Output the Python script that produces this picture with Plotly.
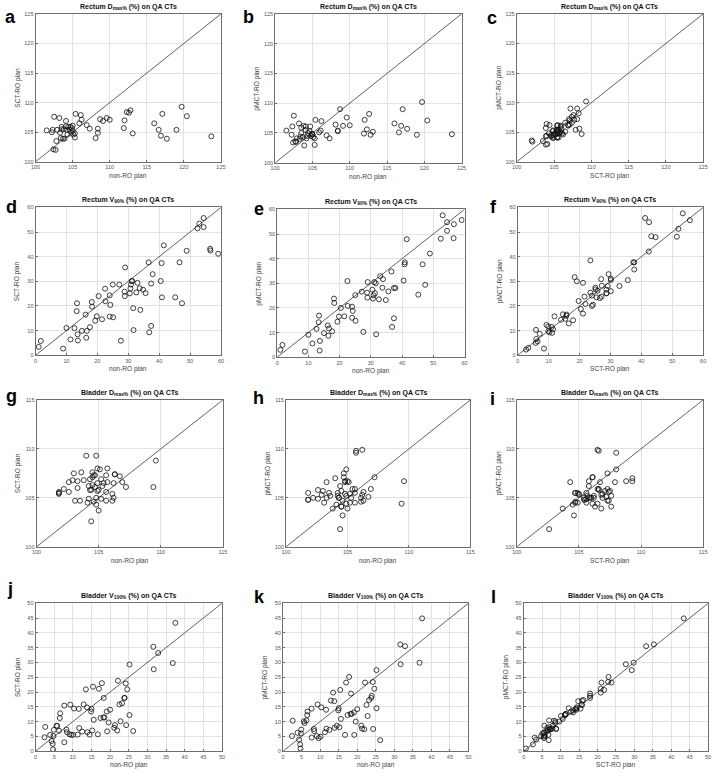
import plotly.graph_objects as go

W, H = 719, 774

# ---------------- data ----------------
# Rectum Dmax% (%)
rd_nonro = [101.5, 102.2, 102.3, 102.5, 102.4, 102.7, 102.8, 102.9, 103.2, 103.3, 103.5, 103.5, 103.4, 103.7, 103.8,
            103.9, 104.1, 104.1, 104.2, 104.3, 104.4, 104.6, 104.7, 104.8, 104.9, 105.0, 105.1, 105.0, 105.3, 105.3,
            105.4, 105.9, 106.1, 106.2, 106.9, 107.3, 108.1, 108.4, 108.4, 108.7, 109.1, 109.6, 110.0, 111.9, 112.0,
            112.3, 112.6, 112.8, 113.1, 116.0, 116.6, 116.9, 117.1, 117.7, 119.0, 119.7, 120.4, 123.7]
rd_sct = [105.3, 105.0, 105.4, 107.6, 102.1, 102.0, 103.5, 105.4, 107.4, 104.9, 105.9, 105.5, 104.0, 103.9, 105.5,
          103.9, 106.9, 106.0, 105.4, 104.6, 105.9, 105.4, 105.9, 104.9, 105.7, 105.2, 104.6, 106.1, 104.1, 104.8,
          108.1, 106.5, 107.9, 107.1, 106.2, 105.6, 104.0, 105.6, 104.9, 107.2, 106.9, 107.4, 107.1, 105.7, 107.0,
          108.4, 108.3, 108.7, 104.8, 106.5, 105.4, 104.4, 108.1, 103.9, 105.4, 109.3, 107.7, 104.3]
rd_pmct = [105.4, 104.7, 106.1, 107.9, 103.4, 103.6, 103.5, 104.1, 106.6, 104.0, 105.9, 105.0, 104.4, 104.3, 106.2,
           102.9, 106.1, 105.5, 104.1, 104.5, 105.0, 105.3, 106.1, 104.5, 104.9, 104.7, 104.3, 104.8, 103.0, 104.1,
           107.2, 105.1, 105.4, 107.0, 104.6, 104.1, 106.4, 105.4, 105.3, 109.0, 106.2, 107.6, 106.3, 104.9, 107.2,
           105.6, 108.2, 104.7, 105.2, 106.6, 105.1, 106.2, 109.0, 105.7, 104.7, 110.2, 107.1, 104.8]

# Rectum V90% (%)
rv_nonro = [1.0, 1.7, 8.9, 10.0, 11.3, 12.6, 13.4, 13.3, 13.6, 13.7, 15.0, 16.2, 16.6, 16.4, 17.6, 18.2, 18.3, 19.3,
            19.8, 20.4, 21.5, 22.5, 22.6, 24.0, 24.2, 24.0, 25.1, 25.0, 27.1, 27.6, 29.0, 28.8, 28.9, 30.5, 30.7, 30.9,
            31.1, 31.3, 31.6, 31.7, 32.6, 33.0, 33.7, 33.9, 34.8, 35.6, 36.8, 36.6, 37.4, 37.4, 37.9, 40.5, 40.8, 40.9,
            41.5, 45.2, 46.6, 47.4, 48.9, 52.4, 53.0, 54.4, 54.4, 56.5, 56.6, 59.1]
rv_sct = [3.4, 5.8, 2.7, 11.1, 6.4, 11.0, 21.1, 17.9, 8.5, 6.0, 9.9, 16.5, 9.9, 7.1, 11.4, 21.6, 19.7, 14.0,
          15.8, 24.0, 14.6, 27.0, 21.9, 24.3, 20.4, 15.7, 15.4, 28.7, 28.7, 5.9, 35.6, 25.8, 24.0, 25.1, 27.1, 28.7,
          30.1, 30.1, 19.1, 10.2, 25.5, 29.4, 27.2, 18.4, 26.6, 25.2, 9.3, 37.7, 29.1, 11.9, 32.9, 30.1, 37.4, 23.5,
          44.6, 23.5, 37.7, 21.1, 42.4, 51.5, 53.4, 55.7, 52.0, 43.2, 42.5, 41.2]
rv_pmct = [3.0, 5.0, 2.3, 9.1, 5.6, 11.5, 16.9, 14.2, 2.7, 6.6, 9.8, 12.9, 11.7, 8.7, 10.5, 23.8, 22.0, 14.4,
           16.5, 20.0, 16.6, 30.9, 20.8, 20.5, 18.8, 16.0, 14.8, 25.2, 26.6, 10.3, 30.5, 26.2, 24.2, 27.4, 23.8, 25.1,
           30.5, 26.0, 30.0, 9.3, 23.5, 32.9, 28.2, 31.7, 23.2, 26.7, 12.3, 34.8, 28.1, 15.8, 28.1, 31.1, 37.7, 38.5,
           47.9, 25.4, 37.7, 29.4, 42.1, 48.1, 57.6, 54.8, 51.3, 48.3, 54.0, 55.7]

# Bladder Dmax% (%)
bd_nonro = [101.8, 101.8, 101.8, 102.2, 102.6, 102.6, 102.9, 103.0, 103.1, 103.3, 103.3, 103.5, 103.6, 103.8, 104.0,
            104.1, 104.2, 104.2, 104.3, 104.3, 104.4, 104.4, 104.5, 104.5, 104.5, 104.6, 104.6, 104.7, 104.7, 104.8,
            104.8, 104.8, 104.9, 104.9, 105.0, 104.9, 105.0, 105.1, 105.2, 105.2, 105.3, 105.4, 105.6, 105.7, 105.6,
            105.6, 105.7, 106.1, 106.1, 106.2, 106.2, 106.3, 106.3, 106.7, 106.9, 107.2, 109.4, 109.6]
bd_sct = [105.6, 105.5, 105.4, 105.9, 105.6, 106.6, 106.8, 107.5, 104.7, 106.0, 106.7, 104.7, 107.6, 106.8, 109.3,
          104.5, 104.9, 106.2, 106.9, 105.8, 105.8, 102.6, 107.6, 106.3, 107.1, 104.6, 107.3, 107.3, 106.1, 104.3,
          105.0, 109.3, 108.0, 106.5, 103.7, 105.7, 105.8, 107.9, 106.9, 104.9, 106.2, 106.5, 105.6, 108.0, 104.7,
          107.3, 106.6, 105.4, 104.7, 105.0, 106.5, 107.4, 107.4, 107.2, 106.6, 106.1, 106.1, 108.8]
bd_pmct = [105.5, 104.8, 104.8, 105.0, 104.9, 105.8, 105.3, 105.7, 104.5, 105.0, 106.6, 105.5, 105.2, 103.9, 107.0,
           104.3, 105.5, 105.2, 105.0, 105.0, 106.2, 101.8, 104.1, 104.1, 105.7, 103.2, 104.7, 107.5, 107.1, 106.6,
           105.4, 106.7, 107.9, 104.4, 103.9, 105.2, 106.7, 106.6, 105.4, 104.5, 105.0, 105.9, 104.5, 109.6, 105.5,
           105.9, 109.8, 105.0, 104.6, 105.3, 109.9, 105.6, 104.7, 105.1, 105.9, 107.1, 104.4, 106.7]

# Bladder V100% (%)
bv_nonro = [2.4, 2.6, 3.9, 4.3, 4.6, 4.7, 4.8, 4.9, 5.6, 5.8, 6.3, 6.5, 6.6, 7.7, 7.7, 8.3, 8.4, 9.1, 9.3, 9.6,
            10.1, 10.3, 11.3, 11.6, 11.7, 12.5, 12.9, 13.5, 13.8, 13.9, 14.5, 15.0, 14.9, 15.2, 15.4, 15.6, 16.7,
            17.0, 17.4, 17.8, 18.3, 18.2, 18.5, 19.1, 19.2, 19.6, 20.0, 21.1, 21.3, 21.9, 22.1, 22.5, 22.8, 23.2,
            23.8, 23.9, 24.2, 24.3, 24.6, 25.2, 25.2, 26.2, 31.6, 31.7, 32.9, 36.8, 37.5]
bv_sct = [4.7, 8.2, 5.5, 3.4, 2.5, 0.6, 5.1, 7.2, 8.6, 8.5, 6.9, 11.2, 12.8, 15.4, 3.0, 7.3, 6.4, 5.7, 15.7, 5.5,
          5.5, 14.4, 5.6, 14.3, 7.8, 6.6, 15.8, 20.9, 14.8, 6.4, 5.6, 14.3, 13.4, 7.0, 21.8, 10.6, 5.7,
          21.1, 11.2, 23.0, 18.0, 11.4, 11.4, 13.4, 6.7, 9.7, 14.0, 7.9, 8.8, 7.0, 23.8, 15.8, 10.1, 16.2,
          18.0, 18.0, 22.9, 8.8, 20.9, 12.2, 29.3, 6.8, 35.3, 27.7, 33.2, 29.8, 43.4]
bv_pmct = [5.1, 10.3, 6.2, 3.9, 2.3, 0.9, 6.0, 7.3, 10.1, 9.5, 10.4, 12.2, 13.4, 14.4, 4.6, 7.5, 6.8, 5.1, 15.8, 4.4,
           4.9, 14.8, 6.4, 14.0, 7.6, 7.2, 17.1, 19.8, 16.9, 7.9, 8.6, 14.5, 13.8, 8.1, 20.7, 10.9, 5.5,
           23.2, 12.2, 25.1, 19.5, 12.6, 12.6, 13.1, 5.5, 10.0, 14.2, 8.6, 7.6, 7.4, 23.2, 15.6, 11.9, 17.3,
           18.0, 18.7, 23.4, 7.5, 21.1, 14.5, 27.4, 3.7, 36.1, 29.4, 35.5, 29.9, 44.9]

# axis ranges and tick steps
rd_range, rd_step = [100, 125], 5
rv_range, rv_step = [0, 60], 10
bd_range, bd_step = [100, 115], 5
bv_range, bv_step = [0, 50], 5

t_rd = "Rectum D<sub>max%</sub> (%) on QA CTs"
t_rv = "Rectum V<sub>90%</sub> (%) on QA CTs"
t_bd = "Bladder D<sub>max%</sub> (%) on QA CTs"
t_bv = "Bladder V<sub>100%</sub> (%) on QA CTs"
lab_non, lab_sct, lab_pm = "non-RO plan", "SCT-RO plan", "pMCT-RO plan"

panels = [
    ("a", t_rd, rd_nonro, rd_sct, lab_non, lab_sct, rd_range, rd_step, (31, 219, 11, 160), (6, 14)),
    ("b", t_rd, rd_nonro, rd_pmct, lab_non, lab_pm, rd_range, rd_step, (274, 463, 11, 161), (247, 14)),
    ("c", t_rd, rd_sct, rd_pmct, lab_sct, lab_pm, rd_range, rd_step, (519, 708, 11, 160), (494, 15)),
    ("d", t_rv, rv_nonro, rv_sct, lab_non, lab_sct, rv_range, rv_step, (31, 219, 206, 355), (7, 206)),
    ("e", t_rv, rv_nonro, rv_pmct, lab_non, lab_pm, rv_range, rv_step, (276, 466, 208, 357), (258, 208)),
    ("f", t_rv, rv_sct, rv_pmct, lab_sct, lab_pm, rv_range, rv_step, (520, 708, 206, 355), (495, 206)),
    ("g", t_bd, bd_nonro, bd_sct, lab_non, lab_sct, bd_range, bd_step, (32, 221, 400, 548), (7, 396)),
    ("h", t_bd, bd_nonro, bd_pmct, lab_non, lab_pm, bd_range, bd_step, (285, 472, 400, 548), (257, 398)),
    ("i", t_bd, bd_sct, bd_pmct, lab_sct, lab_pm, bd_range, bd_step, (519, 708, 400, 548), (494, 399)),
    ("j", t_bv, bv_nonro, bv_sct, lab_non, lab_sct, bv_range, bv_step, (31, 220, 605, 754), (5, 591)),
    ("k", t_bv, bv_nonro, bv_pmct, lab_non, lab_pm, bv_range, bv_step, (282, 470, 605, 754), (258, 599)),
    ("l", t_bv, bv_sct, bv_pmct, lab_sct, lab_pm, bv_range, bv_step, (526, 713, 605, 754), (495, 599)),
]

FONT = "Arial, Liberation Sans, Helvetica, sans-serif"
fig = go.Figure()
layout = {}
annotations = []

for i, (tag, title, xs, ys, xt, yt, rng, step, box, labpos) in enumerate(panels, start=1):
    xref = "x" if i == 1 else f"x{i}"
    yref = "y" if i == 1 else f"y{i}"
    xkey = "xaxis" if i == 1 else f"xaxis{i}"
    ykey = "yaxis" if i == 1 else f"yaxis{i}"
    x0, x1, y0, y1 = box

    fig.add_trace(go.Scatter(x=rng, y=rng, mode="lines", line=dict(color="#3a3a3a", width=0.8),
                             xaxis=xref, yaxis=yref, hoverinfo="skip", showlegend=False))
    fig.add_trace(go.Scatter(x=xs, y=ys, mode="markers",
                             marker=dict(symbol="circle-open", size=5, color="#111111", line=dict(width=0.8)),
                             xaxis=xref, yaxis=yref, showlegend=False))

    common = dict(range=rng, dtick=step, tick0=rng[0], showgrid=True, gridcolor="#e2e2e2", gridwidth=1,
                  showline=True, linecolor="#6e6e6e", linewidth=1, mirror=True, ticks="inside", ticklen=2,
                  tickcolor="#6e6e6e", tickfont=dict(family=FONT, size=5.5, color="#555555"),
                  zeroline=False, fixedrange=True)
    layout[xkey] = dict(domain=[x0 / W, x1 / W], anchor=yref, **common)
    layout[ykey] = dict(domain=[1 - y1 / H, 1 - y0 / H], anchor=xref, **common)

    annotations.append(dict(text=f"<b>{title}</b>", x=(x0 + x1) / 2 / W, y=1 - (y0 - 1) / H,
                            xref="paper", yref="paper", xanchor="center", yanchor="bottom", showarrow=False,
                            font=dict(family=FONT, size=7, color="#111111")))
    annotations.append(dict(text=xt, x=(x0 + x1) / 2 / W, y=1 - min(y1 + 14, H - 5) / H, xref="paper",
                            yref="paper", xanchor="center", yanchor="middle", showarrow=False,
                            font=dict(family=FONT, size=6.6, color="#444444")))
    annotations.append(dict(text=yt, x=(x0 - 18) / W, y=1 - (y0 + y1) / 2 / H, xref="paper", yref="paper",
                            xanchor="center", yanchor="middle", textangle=-90, showarrow=False,
                            font=dict(family=FONT, size=6.6, color="#444444")))
    annotations.append(dict(text=f"<b>{tag}</b>", x=labpos[0] / W, y=1 - labpos[1] / H, xref="paper",
                            yref="paper", xanchor="center", yanchor="middle", showarrow=False,
                            font=dict(family=FONT, size=18, color="#000000")))

fig.update_layout(width=W, height=H, margin=dict(l=0, r=0, t=0, b=0), paper_bgcolor="white",
                  plot_bgcolor="white", showlegend=False, annotations=annotations, **layout)

fig.write_html("out.html", config={"displayModeBar": False, "staticPlot": True},
               post_script="document.body.style.margin='0';document.body.style.overflow='hidden';")
